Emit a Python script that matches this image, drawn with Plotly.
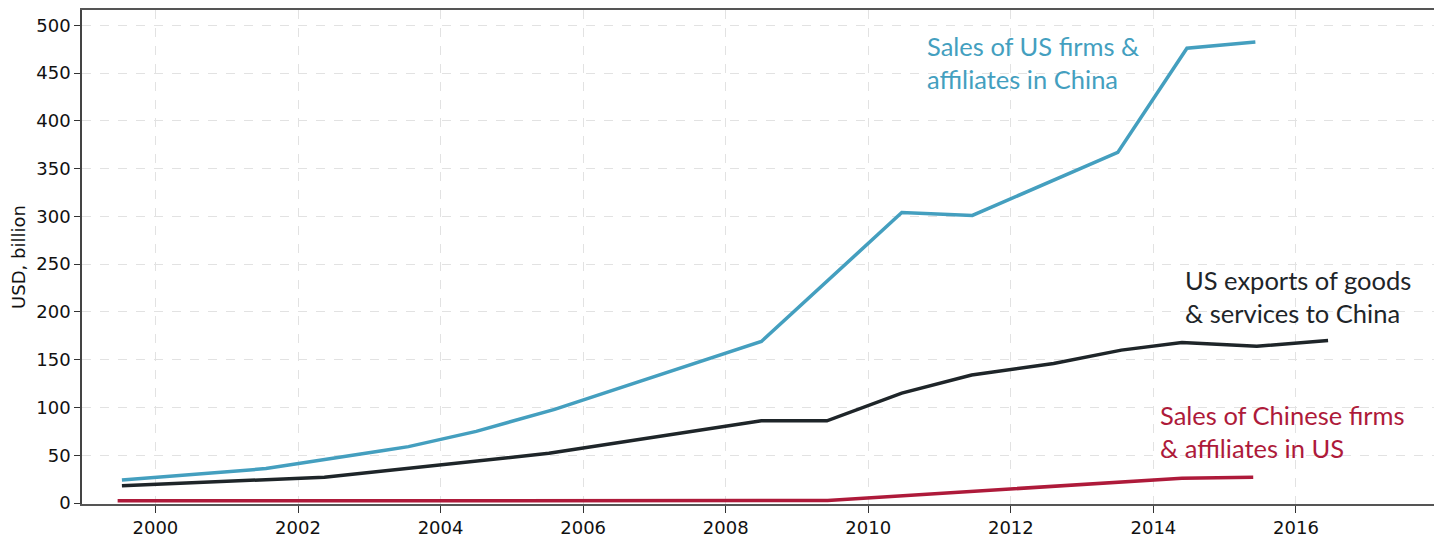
import plotly.graph_objects as go

# Sales of US firms & affiliates in China
blue_x = [1999.53, 2001.55, 2003.2, 2003.55, 2004.5, 2005.6, 2008.5, 2010.47, 2011.46, 2013.5, 2014.47, 2015.43]
blue_y = [24, 36, 55, 59, 75, 98, 169, 304, 301, 367, 476, 482.5]

# US exports of goods & services to China
black_x = [1999.53, 2002.37, 2005.52, 2008.5, 2009.42, 2010.47, 2011.45, 2012.6, 2013.55, 2014.4, 2015.45, 2016.45]
black_y = [18, 27, 52, 86, 86, 115, 134, 146, 160, 168, 164, 170]

# Sales of Chinese firms & affiliates in US
red_x = [1999.47, 2009.43, 2014.4, 2015.4]
red_y = [2.3, 2.6, 26, 27]

tick_years = [2000, 2002, 2004, 2006, 2008, 2010, 2012, 2014, 2016]
y_ticks = [0, 50, 100, 150, 200, 250, 300, 350, 400, 450, 500]

BLUE = "#449fbf"
BLACK = "#1e2529"
RED = "#ae1a3a"

fig = go.Figure()
for xs, ys, c in [(red_x, red_y, RED), (black_x, black_y, BLACK), (blue_x, blue_y, BLUE)]:
    fig.add_trace(go.Scatter(x=xs, y=ys, mode="lines", line=dict(color=c, width=3.5),
                             showlegend=False, hoverinfo="skip"))

ann_font = "Lato"
ann_size = 25.5
fig.add_annotation(x=2010.8, y=461, xref="x", yref="y", xanchor="left", yanchor="middle",
                   text="Sales of US firms &<br>affiliates in China", showarrow=False,
                   align="left", font=dict(family=ann_font, size=ann_size, color=BLUE))
fig.add_annotation(x=2014.42, y=216, xref="x", yref="y", xanchor="left", yanchor="middle",
                   text="US exports of goods<br>& services to China", showarrow=False,
                   align="left", font=dict(family=ann_font, size=ann_size, color=BLACK))
fig.add_annotation(x=2014.06, y=75, xref="x", yref="y", xanchor="left", yanchor="middle",
                   text="Sales of Chinese firms<br>& affiliates in US", showarrow=False,
                   align="left", font=dict(family=ann_font, size=ann_size, color=RED))

tick_font = dict(family="DejaVu Sans", size=18, color="#111111")

fig.update_layout(
    width=1442, height=544,
    margin=dict(l=74, r=15, t=2, b=48),
    paper_bgcolor="white", plot_bgcolor="white",
    font=dict(family="DejaVu Sans", size=16, color="#111111"),
    xaxis=dict(range=[1998.97, 2017.95], tickmode="array", tickvals=tick_years,
               ticktext=[str(t) for t in tick_years],
               showgrid=True, gridcolor="#e2e2e2", griddash="dash", gridwidth=1,
               ticks="outside", ticklen=7, tickcolor="#333333", tickwidth=1.3,
               showline=True, linecolor="#555555", linewidth=1.5, mirror=True,
               zeroline=False, tickfont=tick_font, automargin=False),
    yaxis=dict(range=[-1.05, 516], tickmode="array", tickvals=y_ticks,
               showgrid=True, gridcolor="#e2e2e2", griddash="dash", gridwidth=1,
               ticks="outside", ticklen=6, tickcolor="#333333", tickwidth=1.3,
               showline=True, linecolor="#444444", linewidth=1.5, mirror=True,
               zeroline=False, tickfont=tick_font, automargin=False,
               title=dict(text="USD, billion", font=dict(family="DejaVu Sans", size=18, color="#111111"),
                          standoff=14)),
)

fig.write_html("out.html")
